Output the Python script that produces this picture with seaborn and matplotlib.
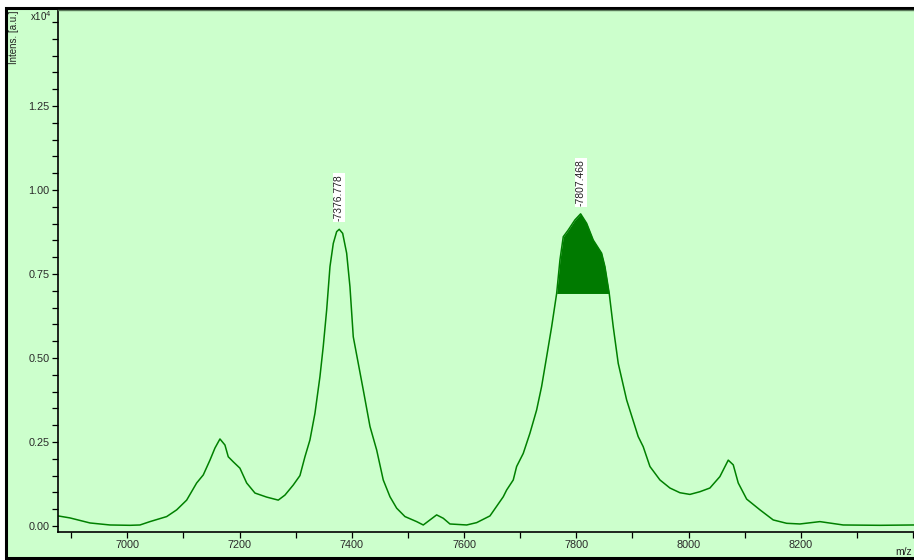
import numpy as np
import pandas as pd
import matplotlib
matplotlib.use("Agg")
import matplotlib.pyplot as plt
from matplotlib.patches import Rectangle
from matplotlib.ticker import MultipleLocator, FormatStrFormatter
import seaborn as sns

# ---- data (m/z, intensity in 10^4 a.u.) ----
mz = [6876.6, 6897.9, 6933.6, 6969.2, 7004.8, 7022.6, 7040.4, 7070.2, 7088.0,
      7105.8, 7123.6, 7135.4, 7147.3, 7156.2, 7165.1, 7174.0, 7179.9, 7188.8,
      7200.7, 7212.7, 7227.5, 7248.3, 7269.0, 7280.9, 7295.7, 7307.6, 7316.5,
      7325.4, 7334.3, 7343.2, 7349.1, 7355.2, 7361.1, 7367.0, 7373.0, 7377.6,
      7383.7, 7390.8, 7396.7, 7402.6, 7411.5, 7420.4, 7432.4, 7444.3, 7456.0,
      7468.0, 7479.9, 7494.7, 7515.5, 7527.3, 7551.1, 7562.9, 7574.8, 7604.6,
      7622.4, 7646.1, 7669.8, 7675.8, 7687.6, 7693.6, 7705.4, 7717.3, 7729.2,
      7738.1, 7747.1, 7756.0, 7764.9, 7770.8, 7776.7, 7785.6, 7797.5, 7807.6,
      7818.3, 7830.1, 7845.0, 7850.9, 7858.6, 7865.7, 7874.6, 7889.6, 7910.2,
      7919.1, 7931.1, 7948.9, 7966.7, 7984.5, 8002.3, 8020.1, 8037.9, 8055.7,
      8070.6, 8079.5, 8088.4, 8103.4, 8127.1, 8150.7, 8174.6, 8198.3, 8233.9,
      8275.4, 8340.8, 8399.6, 8430.0]
intensity = [0.030, 0.024, 0.009, 0.003, 0.002, 0.003, 0.013, 0.028, 0.048,
             0.077, 0.128, 0.152, 0.196, 0.232, 0.259, 0.241, 0.206, 0.191,
             0.172, 0.128, 0.098, 0.086, 0.077, 0.092, 0.122, 0.150, 0.206,
             0.256, 0.335, 0.444, 0.534, 0.643, 0.772, 0.841, 0.876, 0.883,
             0.871, 0.812, 0.712, 0.563, 0.484, 0.405, 0.296, 0.226, 0.137,
             0.087, 0.053, 0.028, 0.013, 0.003, 0.033, 0.023, 0.006, 0.003,
             0.010, 0.030, 0.087, 0.107, 0.137, 0.177, 0.216, 0.276, 0.345,
             0.415, 0.504, 0.593, 0.692, 0.792, 0.861, 0.881, 0.911, 0.929,
             0.901, 0.851, 0.812, 0.772, 0.692, 0.593, 0.484, 0.375, 0.266,
             0.236, 0.177, 0.137, 0.113, 0.099, 0.094, 0.102, 0.113, 0.147,
             0.196, 0.182, 0.128, 0.080, 0.048, 0.018, 0.008, 0.006, 0.013,
             0.003, 0.002, 0.003, 0.003]

peak_mz = [7376.778, 7807.468]
peak_int = [0.883, 0.929]
peak_labels = ["7376.778", "7807.468"]
fill_level = 0.692
fill_range = [7764.9, 7858.6]

xticks = [7000, 7200, 7400, 7600, 7800, 8000, 8200]
yticks = [0.00, 0.25, 0.50, 0.75, 1.00, 1.25]

df = pd.DataFrame({"mz": mz, "intensity": intensity})

# ---- style ----
sns.set_theme(style="ticks")
plt.rcParams["font.family"] = ["Liberation Sans", "DejaVu Sans"]

BG = "#ccffcc"
LINE = "#008000"
W, H = 914, 560
fig = plt.figure(figsize=(W / 100, H / 100), dpi=100)
fig.patch.set_facecolor("white")
border = Rectangle((6 / W, 2 / H), 1.2, (558 - 2 - 6) / H,
                   transform=fig.transFigure, facecolor=BG,
                   edgecolor="black", linewidth=2.2, zorder=-10)
fig.patches.append(border)

ax = fig.add_axes([58 / W, 28 / H, (930 - 58) / W, (550 - 28) / H])
ax.set_zorder(5)
ax.set_facecolor(BG)

sns.lineplot(data=df, x="mz", y="intensity", ax=ax, color=LINE,
             linewidth=1.1, estimator=None, sort=False)

arr_x = np.array(mz)
arr_y = np.array(intensity)
mask = (arr_x >= fill_range[0]) & (arr_x <= fill_range[1]) & (arr_y >= fill_level)
ax.fill_between(arr_x, fill_level, arr_y, where=mask,
                color="#007a00", linewidth=0, interpolate=False)

for px, py, lab in zip(peak_mz, peak_int, peak_labels):
    ax.annotate("-" + lab, xy=(px, py), xytext=(0, 6), textcoords="offset points",
                rotation=90, ha="center", va="bottom", fontsize=7.5,
                color="#222222",
                bbox=dict(boxstyle="square,pad=0.1", facecolor="white",
                          edgecolor="none"))

ax.set_xlim(6876.6, 8430.0)
ax.set_ylim(-0.0179, 1.5357)
ax.set_xticks(xticks)
ax.set_yticks(yticks)
ax.xaxis.set_minor_locator(MultipleLocator(100))
ax.yaxis.set_minor_locator(MultipleLocator(0.05))
ax.yaxis.set_major_formatter(FormatStrFormatter("%.2f"))
ax.tick_params(axis="both", which="both", direction="out", length=4,
               width=0.9, colors="black", labelcolor="#2a2a2a",
               labelsize=7.8)
ax.tick_params(axis="x", which="both", pad=1.5)
ax.tick_params(axis="y", which="both", pad=2)
ax.set_xlabel("")
ax.set_ylabel("")

for side in ["left", "bottom"]:
    ax.spines[side].set_color("black")
    ax.spines[side].set_linewidth(1.2)
ax.spines["top"].set_visible(True)
ax.spines["top"].set_color("#5a7a5a")
ax.spines["top"].set_linewidth(1.0)
ax.spines["right"].set_visible(False)

fig.text(14 / W, 1 - 10 / H, "Intens. [a.u.]", rotation=90, ha="center",
         va="top", fontsize=7, color="#222222", zorder=20)
fig.text(30 / W, 1 - 16 / H, "x10$^{4}$", ha="left", va="center",
         fontsize=7, color="#222222", zorder=20)
fig.text(912 / W, 1 - 552 / H, "m/z", ha="right", va="center",
         fontsize=7.5, color="#222222", zorder=20)

fig.savefig("out.png", dpi=100, facecolor=fig.get_facecolor())
